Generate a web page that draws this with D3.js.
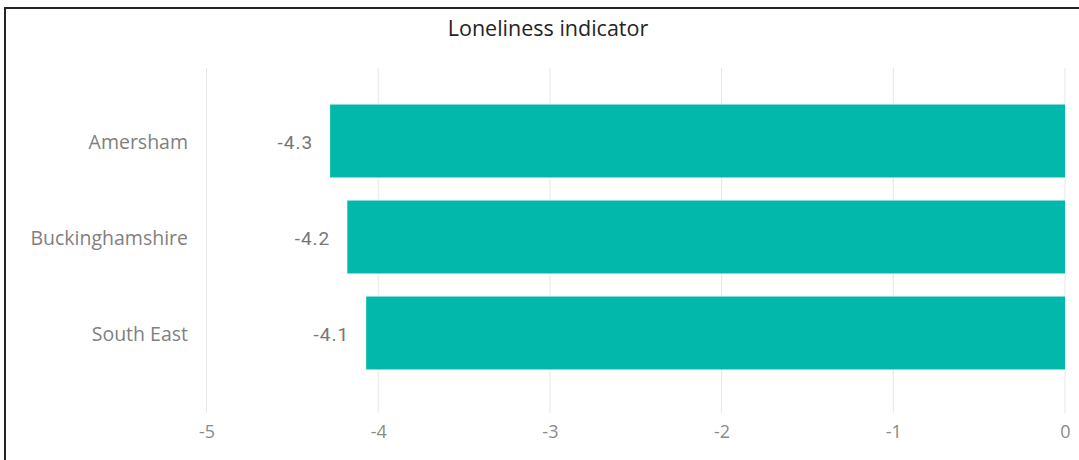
<!DOCTYPE html>
<html>
<head>
<meta charset="utf-8">
<script src="https://cdn.jsdelivr.net/npm/d3@7"></script>
<style>
  html, body { margin: 0; padding: 0; background: #fff; }
  svg { display: block; }
</style>
</head>
<body>
<svg id="chart" width="1079" height="460"></svg>
<script>
const categories = ["Amersham", "Buckinghamshire", "South East"];
const values = [-4.28, -4.18, -4.07];
const valueLabels = ["-4.3", "-4.2", "-4.1"];
const xTicks = [-5, -4, -3, -2, -1, 0];
const title = "Loneliness indicator";

const svg = d3.select("#chart");
const W = 1079, H = 460;

// border
svg.append("rect")
  .attr("x", 5).attr("y", 8)
  .attr("width", W + 20).attr("height", H + 20)
  .attr("fill", "none").attr("stroke", "#252525").attr("stroke-width", 2);

// title
svg.append("text")
  .attr("x", 548).attr("y", 36)
  .attr("text-anchor", "middle")
  .attr("font-family", "'Segoe UI', 'Open Sans', sans-serif")
  .attr("font-size", 21.5)
  .attr("fill", "#252423")
  .text(title);

const x = d3.scaleLinear().domain([-5, 0]).range([206.5, 1065]);
const y = d3.scaleBand().domain(categories).range([93, 381]).paddingInner(0.24).paddingOuter(0.12);

// gridlines
svg.append("g").selectAll("line").data(xTicks).join("line")
  .attr("x1", d => x(d)).attr("x2", d => x(d))
  .attr("y1", 68).attr("y2", 413)
  .attr("stroke", "#e6e6e6").attr("stroke-width", 1);

// x axis labels
const xAxis = d3.axisBottom(x).tickValues(xTicks).tickSize(0).tickPadding(0)
  .tickFormat(d => d3.format("d")(d).replace("−", "-"));
const gx = svg.append("g").attr("transform", "translate(0,425)").call(xAxis);
gx.select(".domain").remove();
gx.selectAll("text")
  .attr("font-family", "'Segoe UI', 'Open Sans', sans-serif")
  .attr("font-size", 18)
  .attr("fill", "#8a8a8a");

// y axis labels
const yAxis = d3.axisLeft(y).tickSize(0).tickPadding(0);
const gy = svg.append("g").attr("transform", "translate(188,0)").call(yAxis);
gy.select(".domain").remove();
gy.selectAll("text")
  .attr("font-family", "'Segoe UI', 'Open Sans', sans-serif")
  .attr("font-size", 19.5)
  .attr("dy", "0.42em")
  .attr("fill", "#7f7f7f");

// bars
svg.append("g").selectAll("rect").data(values).join("rect")
  .attr("x", d => x(d))
  .attr("y", (d, i) => y(categories[i]))
  .attr("width", d => x(0) - x(d))
  .attr("height", y.bandwidth())
  .attr("fill", "#01B8AA");

// data labels
svg.append("g").selectAll("text").data(values).join("text")
  .attr("x", d => x(d) - 17)
  .attr("y", (d, i) => y(categories[i]) + y.bandwidth() / 2)
  .attr("dy", "0.42em")
  .attr("text-anchor", "end")
  .attr("font-family", "'DIN', 'Roboto', sans-serif")
  .attr("font-size", 19)
  .attr("letter-spacing", 1)
  .attr("fill", "#777777")
  .text((d, i) => valueLabels[i]);
</script>
</body>
</html>
